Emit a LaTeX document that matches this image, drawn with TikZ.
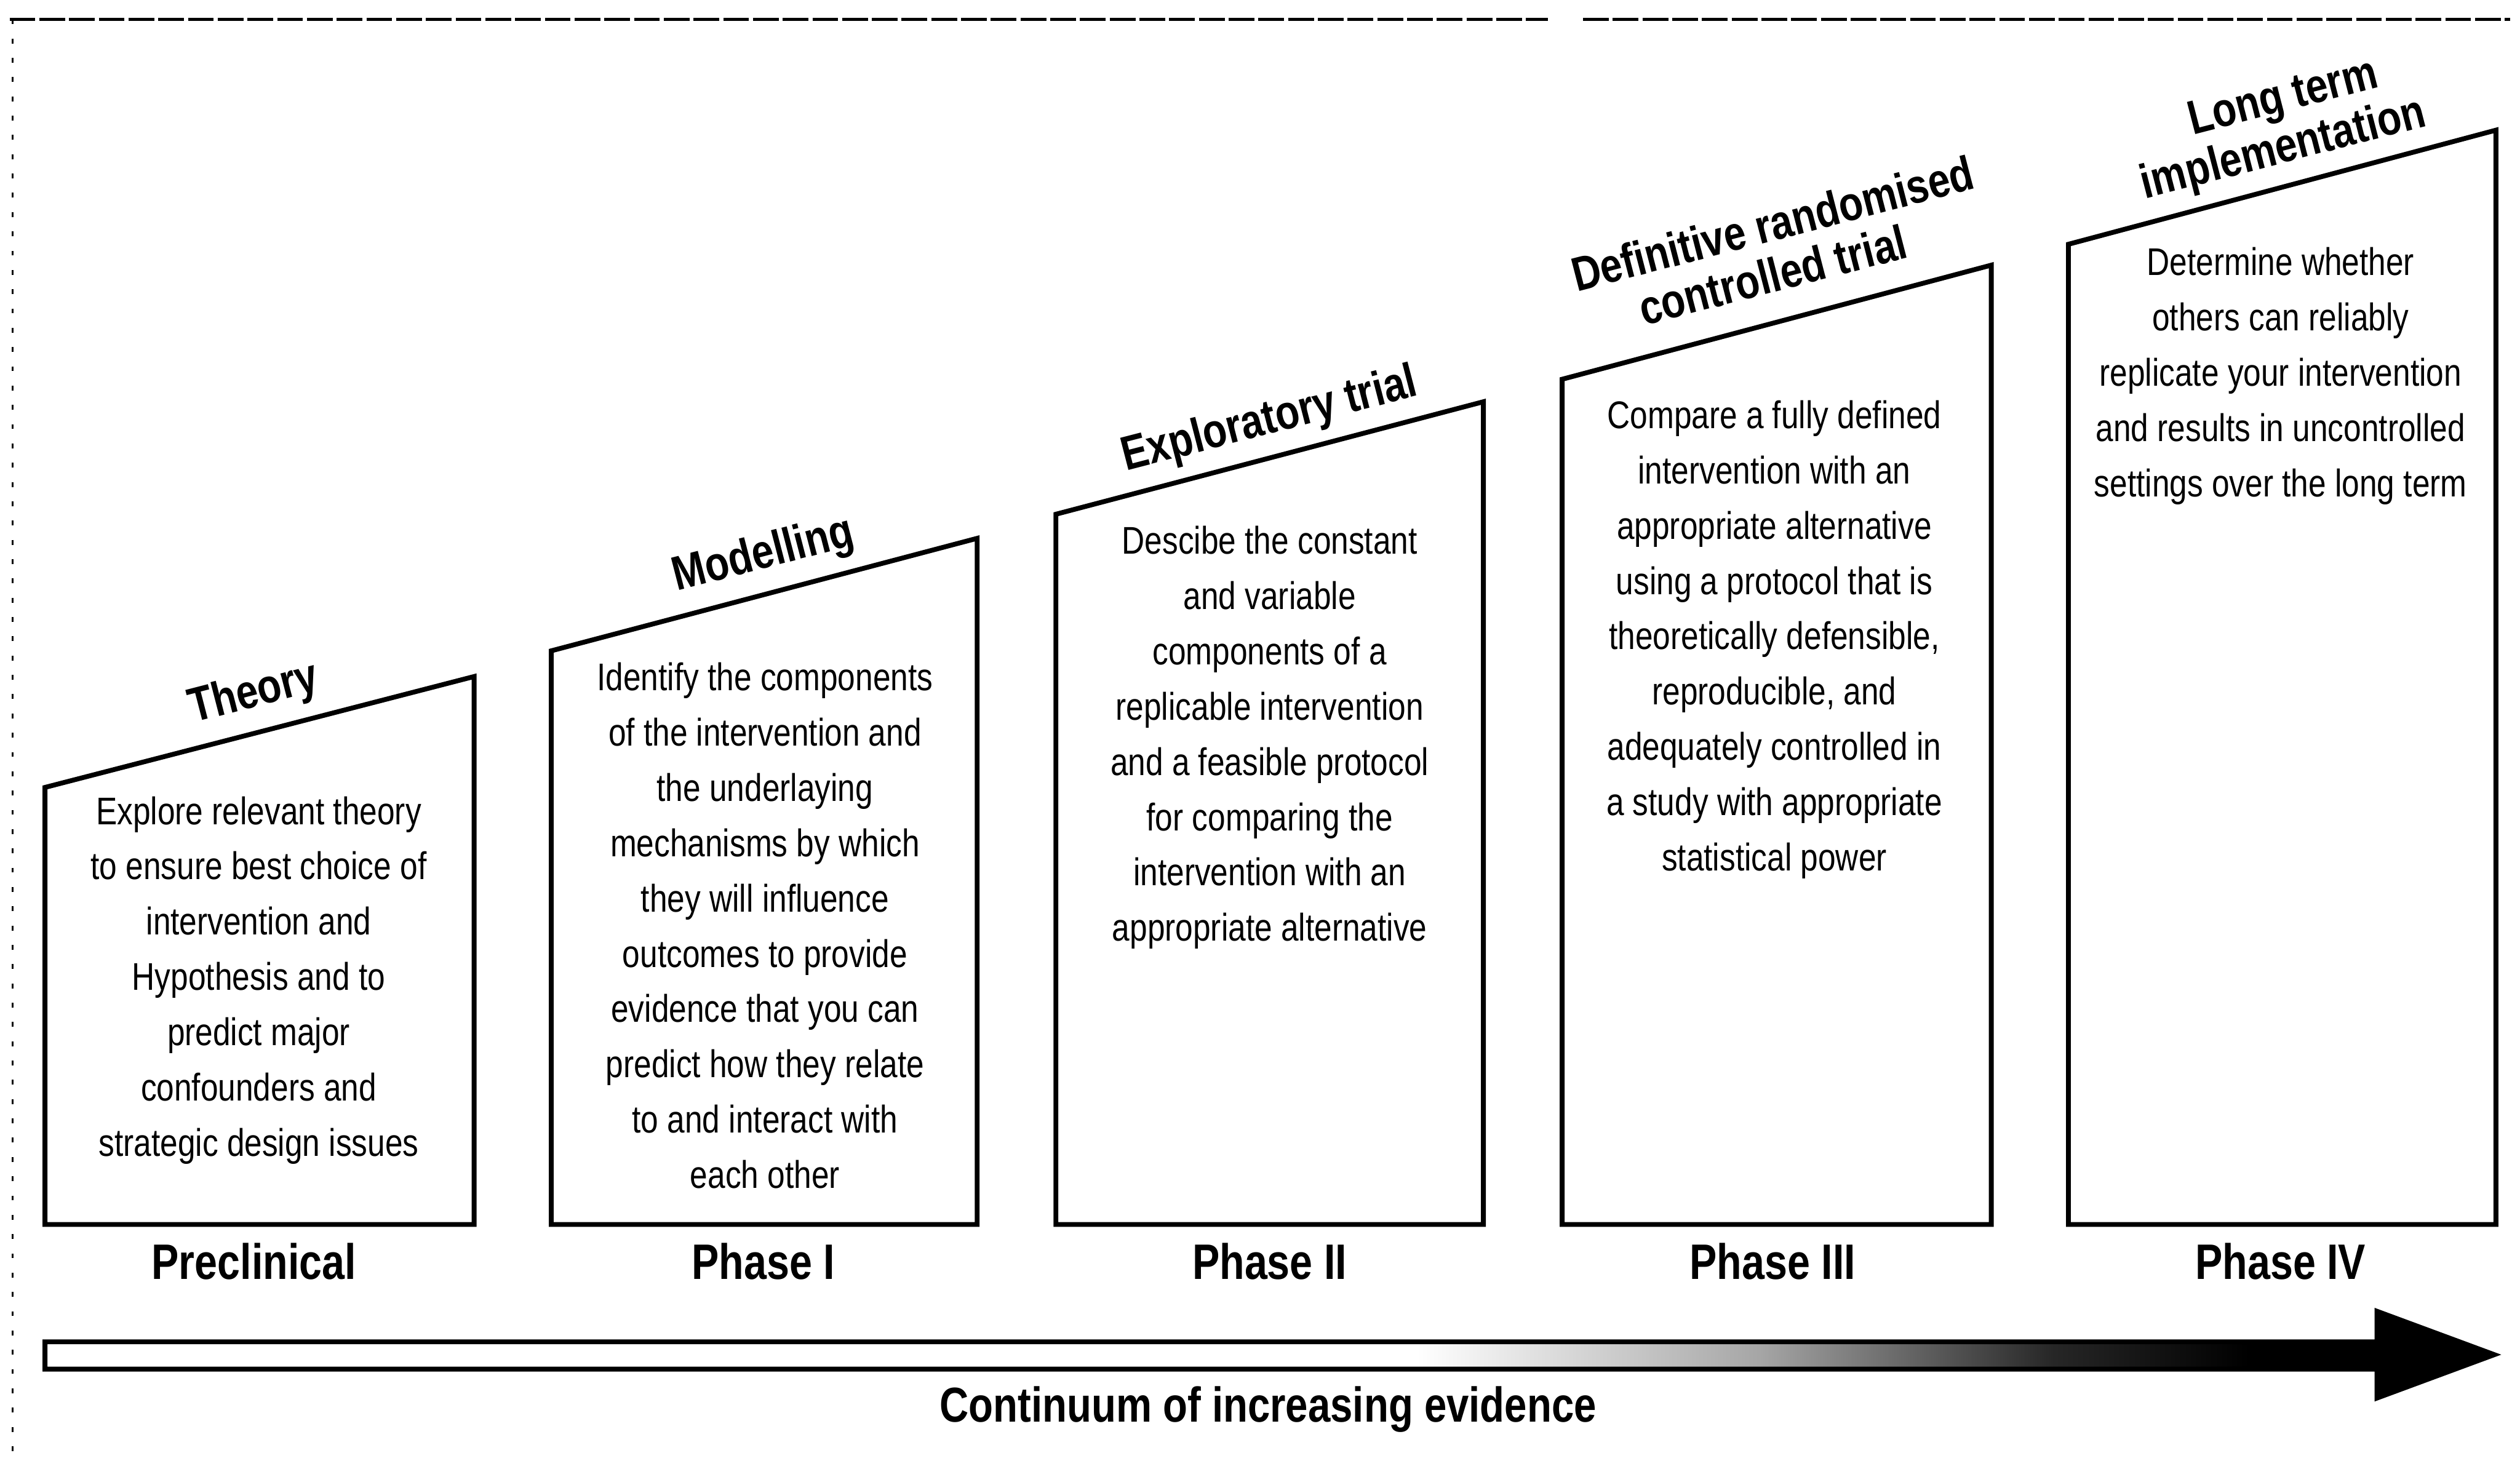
\documentclass[tikz,border=0pt]{standalone}
\usepackage{fontspec}
\setmainfont{Liberation Sans}[FakeStretch=0.82]
\usetikzlibrary{calc}
\pgfdeclarehorizontalshading{evid}{100bp}{color(0bp)=(white); color(53bp)=(white); color(60bp)=(black!35); color(66bp)=(black!85); color(70bp)=(black); color(100bp)=(black)}
\tikzset{
  phasebox/.style={draw=black, line width=3pt, line join=miter},
  bodytext/.style={align=center, inner sep=0pt, font=\fontsize{24}{34.4}\selectfont},
  titletext/.style={align=center, inner sep=0pt, rotate=14.5, font=\fontsize{30}{31}\selectfont\bfseries},
  phaselabel/.style={inner sep=0pt, font=\fontsize{31}{31}\selectfont\bfseries},
}
\begin{document}
\begin{tikzpicture}[x=1pt, y=-1pt]
\useasboundingbox (0,0) rectangle (1568,909);
% frame
\draw[line width=1.8pt, dash pattern=on 16pt off 2.5pt] (6,12) -- (963,12);
\draw[line width=1.8pt, dash pattern=on 16pt off 2.5pt] (985,12) -- (1562,12);
\draw[line width=1.1pt, dash pattern=on 3pt off 9pt] (8,12) -- (8,909);
% boxes
\draw[phasebox] (28,490) -- (295,421) -- (295,762) -- (28,762) -- cycle;
\draw[phasebox] (343,405) -- (608,335) -- (608,762) -- (343,762) -- cycle;
\draw[phasebox] (657,320) -- (923,250) -- (923,762) -- (657,762) -- cycle;
\draw[phasebox] (972,236) -- (1239,165) -- (1239,762) -- (972,762) -- cycle;
\draw[phasebox] (1287,152) -- (1553,81) -- (1553,762) -- (1287,762) -- cycle;
% titles
\node[titletext] (t1) at (158,432) {Theory};
\node[titletext] (t2) at (475,346) {Modelling};
\node[titletext] (t3) at (790,262) {Exploratory trial};
\node[titletext] (t4) at (1099,156) {\hspace*{16pt}Definitive randomised\\controlled trial};
\node[titletext] (t5) at (1417,79) {\hspace*{16pt}Long term\\implementation};
% body texts
\node[bodytext] (b1) at (161,610) {Explore relevant theory\\to ensure best choice of\\intervention and\\Hypothesis and to\\predict major\\confounders and\\strategic design issues};
\node[bodytext] (b2) at (476,576) {Identify the components\\of the intervention and\\the underlaying\\mechanisms by which\\they will influence\\outcomes to provide\\evidence that you can\\predict how they relate\\to and interact with\\each other};
\node[bodytext] (b3) at (790,459) {Descibe the constant\\and variable\\components of a\\replicable intervention\\and a feasible protocol\\for comparing the\\intervention with an\\appropriate alternative};
\node[bodytext] (b4) at (1104,398) {Compare a fully defined\\intervention with an\\appropriate alternative\\using a protocol that is\\theoretically defensible,\\reproducible, and\\adequately controlled in\\a study with appropriate\\statistical power};
\node[bodytext] (b5) at (1419,234) {Determine whether\\others can reliably\\replicate your intervention\\and results in uncontrolled\\settings over the long term};
% phase labels
\node[phaselabel] (p1) at (158,785) {Preclinical};
\node[phaselabel] (p2) at (475,785) {Phase I};
\node[phaselabel] (p3) at (790,785) {Phase II};
\node[phaselabel] (p4) at (1103,785) {Phase III};
\node[phaselabel] (p5) at (1419,785) {Phase IV};
% arrow
\draw[line width=3pt, line join=miter, shading=evid]
  (28,835) -- (1479,835) -- (1479,816) -- (1552,843) -- (1479,870) -- (1479,852) -- (28,852) -- cycle;
\node[phaselabel, font=\fontsize{30.5}{31}\selectfont\bfseries] (cont) at (789,877) {Continuum of increasing evidence};
\end{tikzpicture}
\end{document}
